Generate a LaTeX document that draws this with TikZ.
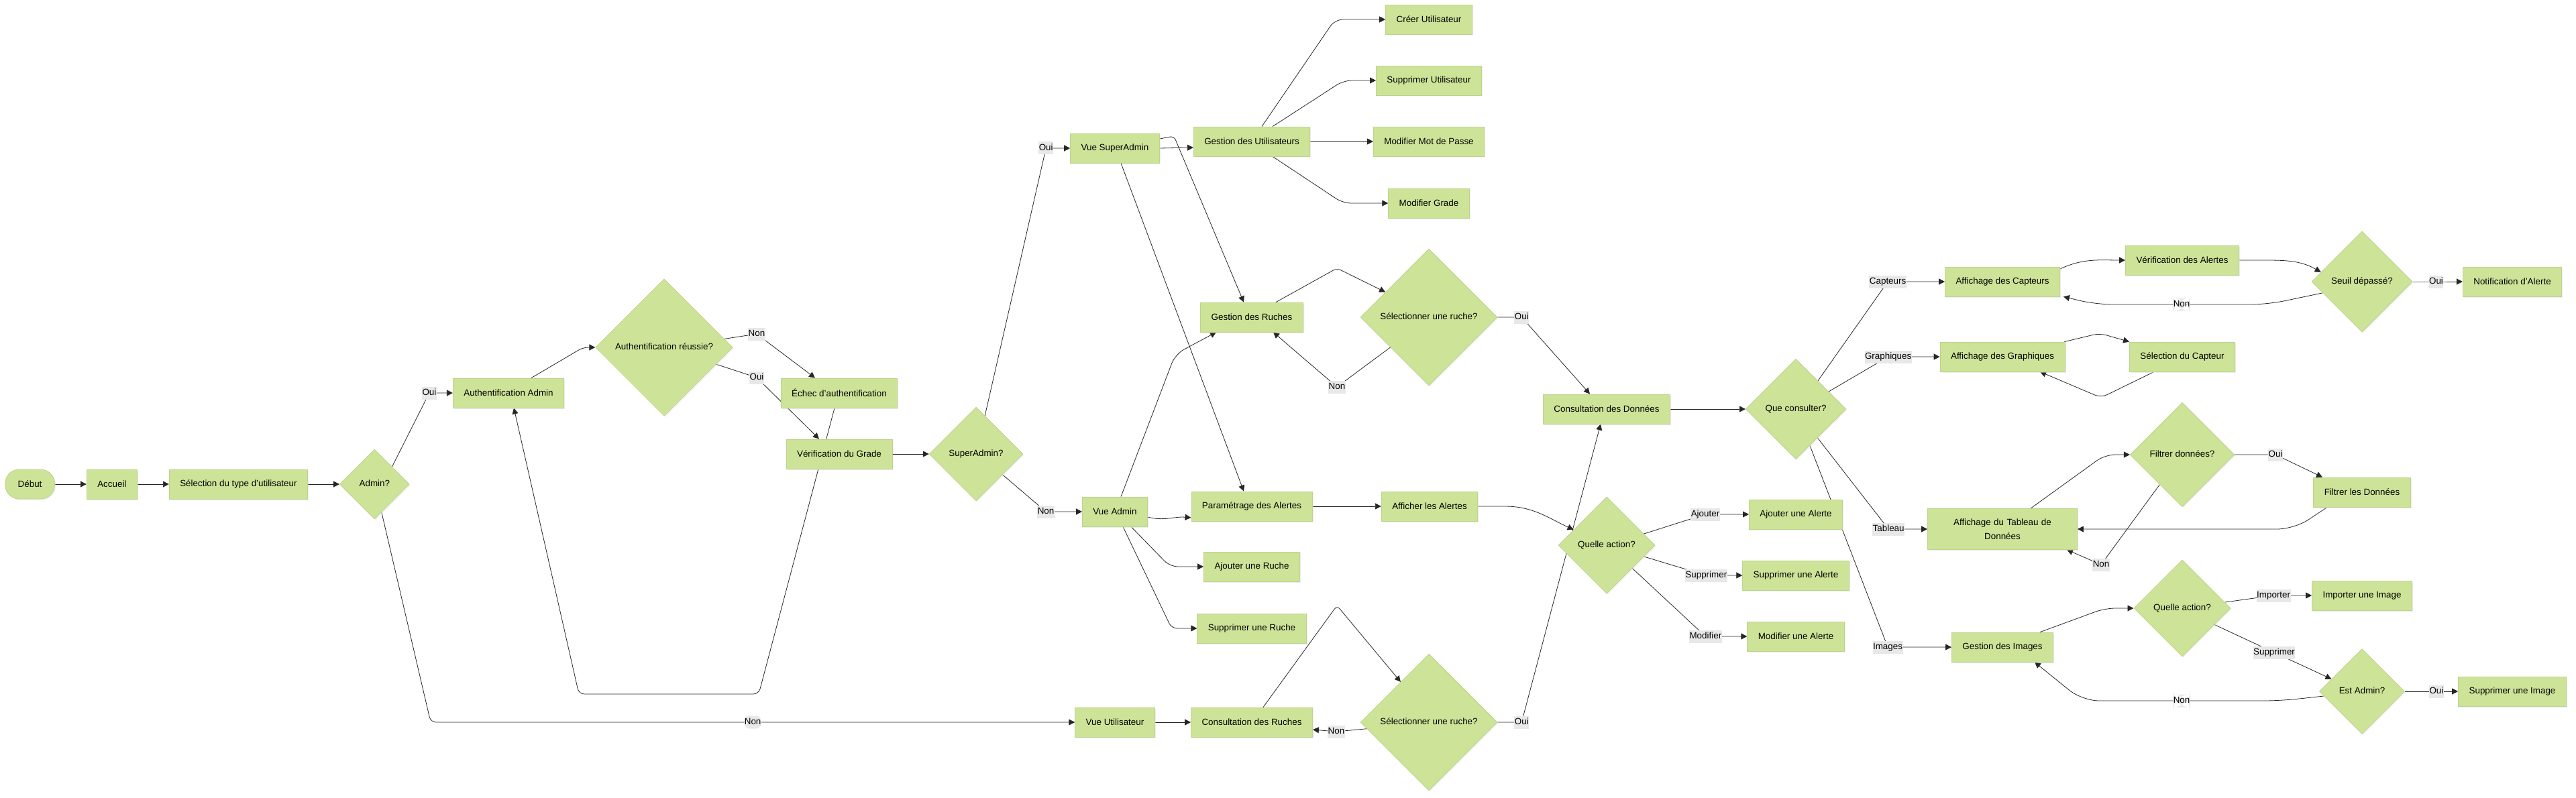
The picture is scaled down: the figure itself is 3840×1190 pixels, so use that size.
\documentclass[tikz,border=0pt]{standalone}
\usepackage{fontspec}
\setmainfont{Liberation Sans}
\usetikzlibrary{shapes, arrows.meta, positioning, shadows, backgrounds}
\definecolor{nodegreen}{RGB}{205,228,152}
\definecolor{nodeborder}{RGB}{188,212,140}
\definecolor{labelgrey}{RGB}{232,232,232}
\tikzset{
    block/.style={rectangle, draw=nodeborder, line width=0.8pt, fill=nodegreen, align=center, inner xsep=16pt, inner ysep=15pt, minimum height=44pt, font=\fontsize{13.4}{21}\selectfont, drop shadow={shadow xshift=1.5pt, shadow yshift=-1.5pt, fill=black!15}},
    startstop/.style={block, rounded corners=21pt, inner xsep=19pt},
    decision/.style={diamond, draw=nodeborder, line width=0.8pt, fill=nodegreen, aspect=1, inner sep=11.5pt, text height=9.5pt, text depth=3pt, font=\fontsize{13.4}{16}\selectfont, drop shadow={shadow xshift=1.5pt, shadow yshift=-1.5pt, fill=black!12}},
    arrow/.style={draw=black!85, line width=0.8pt, ->, >={Triangle[length=9pt, width=9pt]}},
    lbl/.style={fill=labelgrey, inner xsep=0.5pt, inner ysep=3pt, text height=10pt, text depth=3pt, font=\fontsize{13.4}{16}\selectfont}
}
\begin{document}
\begin{tikzpicture}[x=1pt, y=1pt, node distance=47pt]
            \useasboundingbox (0,0) rectangle (3840,-1190);
            \node[startstop] (debut) at (44.6,-722) {Début};
            \node[block, right=of debut] (accueil) {Accueil};
            \node[block, right=of accueil] (selectiontype) {Sélection du type d'utilisateur};
            \node[decision, right=of selectiontype] (admin) {Admin?};
            \node[block] (authadmin) at (758,-586) {Authentification Admin};
            \node[decision] (authreussie) at (990,-518) {Authentification réussie?};
            \node[block] (echecauth) at (1251,-586) {Échec d'authentification};
            \node[block] (verifgrade) at (1251,-677) {Vérification du Grade};
            \node[decision] (superadmin) at (1455,-677) {SuperAdmin?};
            \node[block] (vuesuperadmin) at (1662,-221) {Vue SuperAdmin};
            \node[block] (vueadmin) at (1662,-763) {Vue Admin};
            \node[block] (vueutilisateur) at (1662,-1077) {Vue Utilisateur};
            \node[block] (gestionusers) at (1866,-211) {Gestion des Utilisateurs};
            \node[block] (gestionruches) at (1866,-473) {Gestion des Ruches};
            \node[block] (parametrage) at (1866,-755) {Paramétrage des Alertes};
            \node[block] (ajouterruche) at (1866,-845) {Ajouter une Ruche};
            \node[block] (supprimerruche) at (1866,-937) {Supprimer une Ruche};
            \node[block] (consultationruches) at (1866,-1077) {Consultation des Ruches};
            \node[block] (creeruser) at (2130,-29) {Créer Utilisateur};
            \node[block] (supprimeruser) at (2130,-120) {Supprimer Utilisateur};
            \node[block] (modifiermdp) at (2130,-211) {Modifier Mot de Passe};
            \node[block] (modifiergrade) at (2130,-303) {Modifier Grade};
            \node[decision] (selectruche) at (2130,-473) {Sélectionner une ruche?};
            \node[block] (afficheralertes) at (2131,-755) {Afficher les Alertes};
            \node[decision] (selectruchebis) at (2130,-1077) {Sélectionner une ruche?};
            \node[block] (consultationdonnees) at (2395,-610) {Consultation des Données};
            \node[decision] (quelleaction) at (2395,-813) {Quelle action?};
            \node[block] (ajouteralerte) at (2677,-767) {Ajouter une Alerte};
            \node[block] (supprimeralerte) at (2677,-858) {Supprimer une Alerte};
            \node[block] (modifieralerte) at (2677,-949) {Modifier une Alerte};
            \node[decision] (queconsulter) at (2677,-610) {Que consulter?};
            \node[block] (affcapteurs) at (2985,-420) {Affichage des Capteurs};
            \node[block] (affgraphiques) at (2985,-532) {Affichage des Graphiques};
            \node[block, text width=191pt] (afftableau) at (2985,-789) {Affichage du Tableau de\\Données};
            \node[block] (gestionimages) at (2985,-965) {Gestion des Images};
            \node[block] (verifalertes) at (3253,-388) {Vérification des Alertes};
            \node[block] (selcapteur) at (3253,-532) {Sélection du Capteur};
            \node[decision] (filtrer) at (3253,-678) {Filtrer données?};
            \node[decision] (actionimage) at (3253,-907) {Quelle action?};
            \node[decision] (seuil) at (3521,-420) {Seuil dépassé?};
            \node[block] (filtrerdonnees) at (3521,-734) {Filtrer les Données};
            \node[block] (importerimage) at (3521,-888) {Importer une Image};
            \node[decision] (estadmin) at (3521,-1031) {Est Admin?};
            \node[block] (notification) at (3745,-420) {Notification d'Alerte};
            \node[block] (supprimerimage) at (3745,-1031) {Supprimer une Image};

            \begin{scope}[on background layer]
            \path[arrow] (debut) -- (accueil);
            \path[arrow] (accueil) -- (selectiontype);
            \path[arrow] (selectiontype) -- (admin);
            \path[arrow] (admin.north east) -- ([xshift=-35pt]authadmin.west) node[lbl] {Oui} -- (authadmin.west);
            \path[arrow, rounded corners=8pt] (admin.-76) -- (642,-1077) -- node[lbl] {Non} (vueutilisateur.west);
            \path[arrow, rounded corners=8pt] ([xshift=34pt]authadmin.north) -- ([xshift=-18pt]authreussie.west) -- (authreussie.west);
            \path[arrow] (authreussie.8) -- (1128,-498) node[lbl] {Non} -- ([xshift=-36pt]echecauth.north);
            \path[arrow] (authreussie.-18) -- (1128,-563) node[lbl] {Oui} -- ([xshift=-30pt]verifgrade.north);
            \path[arrow, rounded corners=8pt] ([xshift=-7pt]echecauth.south) -- (1131,-1035) -- (863,-1035) -- ([xshift=8pt]authadmin.south);
            \path[arrow] (verifgrade) -- (superadmin);
            \path[arrow] (superadmin.77) -- ([xshift=-36pt]vuesuperadmin.west) node[lbl] {Oui} -- (vuesuperadmin.west);
            \path[arrow] (superadmin.-38) -- ([xshift=-54pt]vueadmin.west) node[lbl] {Non} -- (vueadmin.west);
            \path[arrow] (vuesuperadmin.east) -- ([yshift=-9pt]gestionusers.west);
            \path[arrow, rounded corners=6pt] ([yshift=14pt]vuesuperadmin.east) -- (1750,-203) -- ([xshift=-12pt]gestionruches.north);
            \path[arrow] ([xshift=9pt]vuesuperadmin.south) -- ([xshift=-12pt]parametrage.north);
            \path[arrow, rounded corners=12pt] ([xshift=15pt]gestionusers.north) -- (1990,-29) -- (creeruser.west);
            \path[arrow, rounded corners=12pt] ([xshift=31pt]gestionusers.north) -- (2003,-120) -- (supprimeruser.west);
            \path[arrow] (gestionusers.east) -- (modifiermdp.west);
            \path[arrow, rounded corners=12pt] ([xshift=31pt]gestionusers.south) -- (2002,-303) -- (modifiergrade.west);
            \path[arrow, rounded corners=6pt] ([xshift=36pt]gestionruches.north) -- (1993,-400) -- (selectruche.150);
            \path[arrow] (selectruche.218) -- (1993,-577) node[lbl] {Non} -- ([xshift=32pt]gestionruches.south);
            \path[arrow] (selectruche.east) -- ([xshift=36pt]selectruche.east) node[lbl] {Oui} -- ([xshift=-25pt]consultationdonnees.north);
            \path[arrow, rounded corners=15pt] ([xshift=9pt]vueadmin.north) -- (1752,-528) -- ([xshift=-53pt]gestionruches.south);
            \path[arrow] ([yshift=-8pt]vueadmin.east) to[out=-15, in=175] ([yshift=-17pt]parametrage.west);
            \path[arrow, rounded corners=12pt] ([xshift=24pt]vueadmin.south) -- ([xshift=-50pt]ajouterruche.west) -- (ajouterruche.west);
            \path[arrow, rounded corners=8pt] ([xshift=12pt]vueadmin.south) -- ([xshift=-38pt]supprimerruche.west) -- (supprimerruche.west);
            \path[arrow] (parametrage) -- (afficheralertes);
            \path[arrow] (afficheralertes.east) -- ++(40pt,0) to[out=0, in=155] (quelleaction.155);
            \path[arrow] (quelleaction.17) -- ([xshift=-65pt]ajouteralerte.west) node[lbl] {Ajouter} -- (ajouteralerte.west);
            \path[arrow] (quelleaction.-17) -- ([xshift=-54pt]supprimeralerte.west) node[lbl] {Supprimer} -- (supprimeralerte.west);
            \path[arrow] (quelleaction.-42) -- ([xshift=-62pt]modifieralerte.west) node[lbl] {Modifier} -- (modifieralerte.west);
            \path[arrow] (vueutilisateur) -- (consultationruches);
            \path[arrow, rounded corners=6pt] ([xshift=17pt]consultationruches.north) -- (1993,-903) -- (selectruchebis.125);
            \path[arrow] (selectruchebis.186) -- (1992,-1091) node[lbl] {Non} -- ([yshift=-11pt]consultationruches.east);
            \path[arrow] (selectruchebis.east) -- ([xshift=36pt]selectruchebis.east) node[lbl] {Oui} -- ([xshift=-9pt]consultationdonnees.south);
            \path[arrow] (consultationdonnees) -- (queconsulter);
            \path[arrow] (queconsulter.52) -- ([xshift=-85pt]affcapteurs.west) node[lbl] {Capteurs} -- (affcapteurs.west);
            \path[arrow] (queconsulter.28) -- ([xshift=-77pt]affgraphiques.west) node[lbl] {Graphiques} -- (affgraphiques.west);
            \path[arrow] (queconsulter.-53) -- ([xshift=-58pt]afftableau.west) node[lbl] {Tableau} -- (afftableau.west);
            \path[arrow] (queconsulter.-69) -- ([xshift=-95pt]gestionimages.west) node[lbl] {Images} -- (gestionimages.west);
            \path[arrow] ([yshift=19pt]affcapteurs.east) to[out=25, in=180] (verifalertes.west);
            \path[arrow] (verifalertes.east) -- ++(30pt,0) to[out=0, in=150] (seuil.167);
            \path[arrow, rounded corners=25pt] (seuil.196) -- (3380,-454) -- node[lbl] {Non} (3124,-454) -- ([xshift=5pt]affcapteurs.south east);
            \path[arrow] (seuil.east) -- ([xshift=35pt]seuil.east) node[lbl] {Oui} -- (notification.west);
            \path[arrow, rounded corners=10pt] ([xshift=-1pt]affgraphiques.north east) -- (3130,-497) -- (selcapteur.north west);
            \path[arrow, rounded corners=10pt] ([xshift=-42pt]selcapteur.south) -- (3132,-593) -- ([xshift=56pt]affgraphiques.south);
            \path[arrow, rounded corners=15pt] ([xshift=42pt]afftableau.north) -- (3138,-678) -- (filtrer.west);
            \path[arrow] (filtrer.east) -- ([xshift=61pt]filtrer.east) node[lbl] {Oui} -- ([xshift=-59pt]filtrerdonnees.north);
            \path[arrow] (filtrer.233) -- (3132,-842) node[lbl] {Non} -- ([xshift=96pt]afftableau.south);
            \path[arrow, rounded corners=25pt] ([xshift=-52pt]filtrerdonnees.south) -- (3420,-789) -- (afftableau.east);
            \path[arrow, rounded corners=15pt] ([xshift=56pt]gestionimages.north) -- (3138,-907) -- (actionimage.west);
            \path[arrow] (actionimage.8) -- ([xshift=-57pt]importerimage.west) node[lbl] {Importer} -- (importerimage.west);
            \path[arrow] (actionimage.-27) -- (3390,-973) node[lbl] {Supprimer} -- (estadmin.158);
            \path[arrow] (estadmin.east) -- ([xshift=47pt]estadmin.east) node[lbl] {Oui} -- (supprimerimage.west);
            \path[arrow, rounded corners=25pt] (estadmin.187) -- (3400,-1045) -- node[lbl] {Non} (3104,-1045) -- ([xshift=48pt]gestionimages.south);
            \end{scope}
        \end{tikzpicture}
\end{document}
